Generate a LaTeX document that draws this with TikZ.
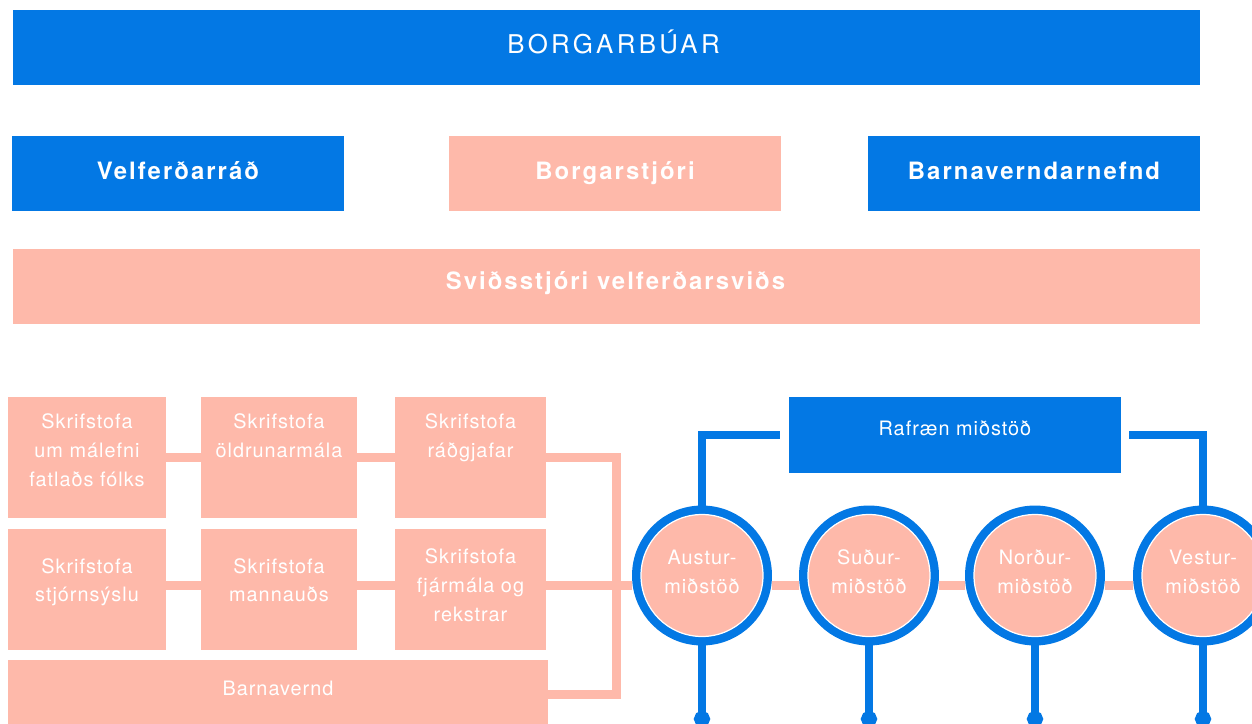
\documentclass[tikz,border=0pt]{standalone}
\usepackage{fontspec}
\setmainfont{TeX Gyre Heros}
\newfontfamily\hdfont{TeX Gyre Heros}[LetterSpace=8.5]
\newfontfamily\topfont{TeX Gyre Heros}[LetterSpace=13]
\newfontfamily\bxfont{TeX Gyre Heros}[LetterSpace=5]
\usetikzlibrary{positioning,arrows.meta}
\definecolor{rvkblue}{RGB}{3,120,228}
\definecolor{rvkpink}{RGB}{254,185,170}
\tikzset{
	wide/.style={rectangle, inner sep=0, minimum width=23.74cm, minimum height=1.5cm},
	widetext/.style={inner sep=0, text=white, text height=10pt},
	head/.style={rectangle, inner sep=0, minimum width=6.64cm, minimum height=1.5cm, text=white, text height=10pt, text depth=2.7pt, font=\hdfont\bfseries\fontsize{13.6}{16}\selectfont},
	office/.style={rectangle, inner sep=0, minimum height=2.42cm, fill=rvkpink},
	lbl/.style={inner sep=0, align=center, text=white, font=\bxfont\fontsize{11.3}{16.3}\selectfont},
	centre/.style={circle, inner sep=0, minimum size=2.44cm, outer sep=0.18cm, fill=rvkpink, draw=white, line width=0.7pt, preaction={draw=rvkblue, line width=0.36cm}, align=center, text=white, text depth=4.5pt, font=\bxfont\fontsize{11.3}{16.3}\selectfont},
	link/.style={draw=rvkpink, line width=0.18cm},
	blink/.style={draw=rvkblue, line width=0.17cm}
}
\begin{document}
\begin{tikzpicture}[x=0.02cm, y=-0.02cm]
		\clip (0,0) rectangle (1252,724);
		
		\node[wide, fill=rvkblue] (ibuar) at (606.5,47.5) {};
		\node[widetext, text depth=3.5pt, font=\topfont\fontsize{14.7}{18}\selectfont] (ibuar-t) at ([xshift=0.14cm]ibuar) {BORGARBÚAR};
		\node[head, fill=rvkblue] (vradid) at (178,173.5) {Velferðarráð};
		\node[head, fill=rvkpink] (bstjori) at (615,173.5) {Borgarstjóri};
		\node[head, fill=rvkblue] (bvnefnd) at (1034,173.5) {Barnaverndarnefnd};
		\node[wide, fill=rvkpink] (svid) at (606.5,286.5) {};
		\node[widetext, text depth=6.5pt, font=\hdfont\bfseries\fontsize{13.6}{16}\selectfont] (svid-t) at ([xshift=0.18cm]svid) {Sviðsstjóri velferðarsviðs};
		
		\node[office, minimum width=3.16cm] (fatl) at (87,457.5) {};
		\node[office, minimum width=3.12cm] (aldr) at (279,457.5) {};
		\node[office, minimum width=3.02cm] (radg) at (470.5,457.5) {};
		\node[office, minimum width=3.16cm] (stjs) at (87,589.5) {};
		\node[office, minimum width=3.12cm] (mann) at (279,589.5) {};
		\node[office, minimum width=3.02cm] (fjar) at (470.5,589.5) {};
		\node[office, minimum width=10.8cm, minimum height=1.38cm] (bvernd) at (278,694.5) {};
		
		\node[lbl, below=0.34cm of fatl.north] (fatl-t) {Skrifstofa\\um málefni\\fatlaðs fólks};
		\node[lbl, below=0.34cm of aldr.north] (aldr-t) {Skrifstofa\\öldrunarmála};
		\node[lbl, below=0.34cm of radg.north] (radg-t) {Skrifstofa\\ráðgjafar};
		\node[lbl, below=0.59cm of stjs.north] (stjs-t) {Skrifstofa\\stjórnsýslu};
		\node[lbl, below=0.59cm of mann.north] (mann-t) {Skrifstofa\\mannauðs};
		\node[lbl, below=0.40cm of fjar.north] (fjar-t) {Skrifstofa\\fjármála og\\rekstrar};
		\node[lbl, below=0.43cm of bvernd.north] (bvernd-t) {Barnavernd};
		
		\node[head, fill=rvkblue, font=\bxfont\fontsize{11.3}{16.3}\selectfont, text height=9pt, text depth=9pt, minimum height=1.52cm] (rafr) at (955,435) {Rafræn miðstöð};
		
		\node[centre] (aust) at (702,575.5) {Austur-\\miðstöð};
		\node[centre] (sudur) at (869,575.5) {Suður-\\miðstöð};
		\node[centre] (nord) at (1035,575.5) {Norður-\\miðstöð};
		\node[centre] (vest) at (1203,575.5) {Vestur-\\miðstöð};
		
		\coordinate (spine) at (616,694.5);
		\coordinate (row2) at (0,585);
		\coordinate (foot) at (0,727);
		
		\draw[link] (fatl) -- (aldr) -- (radg) -| (spine) -- (bvernd);
		\draw[link] (stjs.east |- row2) -- (mann.west |- row2)
			(mann.east |- row2) -- (fjar.west |- row2)
			(fjar.east |- row2) -- (aust.west |- row2)
			(aust.east |- row2) -- (sudur.west |- row2)
			(sudur.east |- row2) -- (nord.west |- row2)
			(nord.east |- row2) -- (vest.west |- row2);
		
		\draw[blink] ([xshift=-0.18cm]rafr.west) -| (aust);
		\draw[blink] ([xshift=0.16cm]rafr.east) -| (vest);
		\foreach \c in {aust,sudur,nord,vest}
			\draw[blink, -{Circle[length=0.32cm]}] (\c) -- (\c |- foot);
	\end{tikzpicture}
\end{document}
